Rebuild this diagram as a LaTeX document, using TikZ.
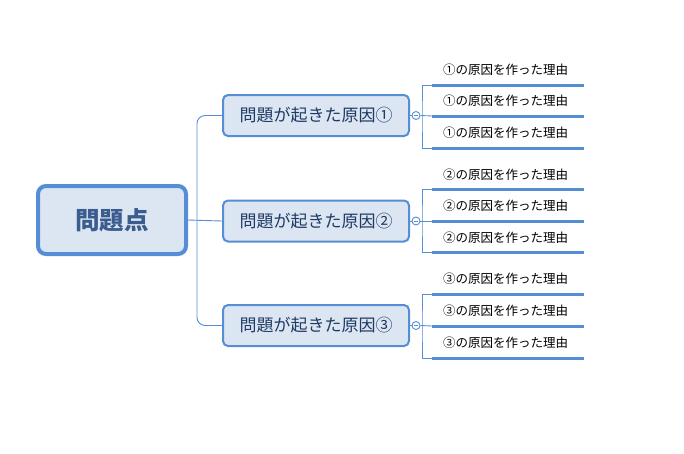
\documentclass[tikz,border=0pt]{standalone}
\usepackage{fontspec}
\setmainfont{Noto Sans CJK JP}
\definecolor{bd}{HTML}{558ED5}
\definecolor{fl}{HTML}{DCE6F2}
\definecolor{rt}{HTML}{3A5C8E}
\definecolor{bt}{HTML}{1F3A63}
\begin{document}
\begin{tikzpicture}[x=1pt,y=-1pt,
  rootbox/.style={draw=bd, line width=4pt, fill=fl, rounded corners=8pt, minimum width=148pt, minimum height=68pt, inner sep=0pt, font=\fontsize{24.5}{28}\selectfont\bfseries, text=rt},
  branchbox/.style={draw=bd, line width=2pt, fill=fl, rounded corners=5pt, minimum width=186pt, minimum height=41pt, inner sep=0pt, font=\fontsize{17}{20}\selectfont, text=bt},
  leaftext/.style={anchor=west, inner sep=0pt, font=\fontsize{12.5}{15}\selectfont, text=black},
  leafline/.style={draw=bd, line width=3pt},
  conn/.style={draw=bd, line width=0.9pt},
  collapse/.style={circle, draw=bd, line width=0.9pt, fill=white, minimum size=8pt, inner sep=0pt}
]
\useasboundingbox (0,0) rectangle (684,453);

\node[rootbox] (root) at (112,220) {問題点};
\node[branchbox] (b1) at (316,115.5) {問題が起きた原因①};
\node[branchbox] (b2) at (316,221) {問題が起きた原因②};
\node[branchbox] (b3) at (316,325.5) {問題が起きた原因③};

\coordinate (j) at (197,220);
\draw[conn, rounded corners=8pt] (b1.west) -| (j) |- (b3.west);
\draw[conn] (root.east) -- (b2.west);

% collapse circles
\node[collapse] (c1) at (416,115.5) {};
\node[collapse] (c2) at (416,221) {};
\node[collapse] (c3) at (416,325.5) {};
\foreach \c in {c1,c2,c3}{
  \draw[conn, line width=0.7pt] (\c.center) +(-2.3,0) -- +(2.3,0);
}
\draw[conn] (b1.east) -- (c1.west);
\draw[conn] (b2.east) -- (c2.west);
\draw[conn] (b3.east) -- (c3.west);

% leaves
\foreach \g/\m/\ya/\yb/\yc in {1/①/85/116/148, 2/②/189.5/221/252.5, 3/③/294/326/358}{
  \coordinate (s\g a) at (432,\ya);
  \coordinate (s\g b) at (432,\yb);
  \coordinate (s\g c) at (432,\yc);
  \coordinate (e\g a) at (584,\ya);
  \coordinate (e\g b) at (584,\yb);
  \coordinate (e\g c) at (584,\yc);
  \coordinate (v\g) at (422,\yb);
  \node[leaftext] (l\g a) at (443,\ya-15) {\m の原因を作った理由};
  \node[leaftext] (l\g b) at (443,\yb-15) {\m の原因を作った理由};
  \node[leaftext] (l\g c) at (443,\yc-15) {\m の原因を作った理由};
  \draw[leafline] (s\g a) -- (e\g a);
  \draw[leafline] (s\g b) -- (e\g b);
  \draw[leafline] (s\g c) -- (e\g c);
  \draw[conn] (s\g a) -| (v\g) |- (s\g c);
  \draw[conn] (c\g.east) -- (s\g b);
}
\end{tikzpicture}
\end{document}
